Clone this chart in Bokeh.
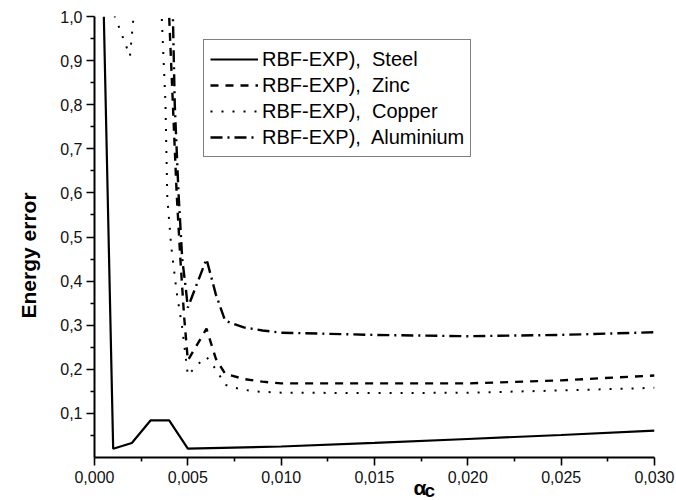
from bokeh.plotting import figure
from bokeh.models import (FixedTicker, CustomJSTickFormatter, Legend, LegendItem,
                          Title, Range1d)
from bokeh.embed import file_html
from bokeh.resources import INLINE

# ---- data ----
steel_x = [0.0005, 0.001, 0.002, 0.003, 0.004, 0.005, 0.010, 0.015, 0.020, 0.025, 0.030]
steel_y = [1.0, 0.020, 0.033, 0.084, 0.084, 0.020, 0.025, 0.033, 0.042, 0.051, 0.061]

zinc_x = [0.0030, 0.0040, 0.0042, 0.0044, 0.0046, 0.0048, 0.0050, 0.0060, 0.0065,
          0.0070, 0.0080, 0.0090, 0.0100, 0.0150, 0.0200, 0.0250, 0.0300]
zinc_y = [1.30, 1.00, 0.80, 0.60, 0.45, 0.32, 0.22, 0.292, 0.224,
          0.190, 0.178, 0.172, 0.168, 0.168, 0.168, 0.175, 0.186]

copper_x = [0.0005, 0.0010, 0.0015, 0.0019, 0.0022, 0.0030, 0.0035, 0.0036, 0.0038,
            0.0039, 0.0041, 0.0044, 0.0047, 0.0050, 0.0055, 0.0060, 0.0065, 0.0070,
            0.0075, 0.0085, 0.0100, 0.0150, 0.0200, 0.0250, 0.0300]
copper_y = [1.30, 1.01, 0.955, 0.91, 1.05, 1.30, 1.10, 1.00, 0.806,
            0.590, 0.483, 0.375, 0.294, 0.186, 0.210, 0.228, 0.200, 0.165,
            0.158, 0.150, 0.147, 0.146, 0.147, 0.152, 0.158]

alu_x = [0.0030, 0.0042, 0.0043, 0.0045, 0.0047, 0.0049, 0.0050, 0.0060, 0.0065,
         0.0070, 0.0080, 0.0090, 0.0100, 0.0150, 0.0200, 0.0250, 0.0300]
alu_y = [1.30, 1.00, 0.80, 0.60, 0.45, 0.38, 0.34, 0.45, 0.37,
         0.31, 0.295, 0.288, 0.283, 0.278, 0.275, 0.278, 0.284]

labels = ["RBF-EXP),  Steel", "RBF-EXP),  Zinc", "RBF-EXP),  Copper", "RBF-EXP),  Aluminium"]
y_title = "Energy error"
x_title_main = "\u03b1"
x_title_sub = "c"

x_ticks = [0.000, 0.005, 0.010, 0.015, 0.020, 0.025, 0.030]
x_minor = [0.0025, 0.0075, 0.0125, 0.0175, 0.0225, 0.0275]
y_ticks = [0.1, 0.2, 0.3, 0.4, 0.5, 0.6, 0.7, 0.8, 0.9, 1.0]
y_minor = [0.05, 0.15, 0.25, 0.35, 0.45, 0.55, 0.65, 0.75, 0.85, 0.95]

FONT = "Liberation Sans"

p = figure(frame_width=560, frame_height=441, output_backend="svg",
           toolbar_location=None, x_range=Range1d(0, 0.030), y_range=Range1d(0, 1.0),
           min_border_left=94, min_border_top=16, min_border_right=22, min_border_bottom=43)
p.outline_line_color = None
p.xgrid.visible = False
p.ygrid.visible = False
p.background_fill_color = "white"

r1 = p.line(steel_x, steel_y, line_color="black", line_width=2.2)
r2 = p.line(zinc_x, zinc_y, line_color="black", line_width=2.4, line_dash="8 7")
r3 = p.line(copper_x, copper_y, line_color="black", line_width=2.0, line_dash="2 9")
r4 = p.line(alu_x, alu_y, line_color="black", line_width=2.4, line_dash="12 5 2 5")

for ax in (p.xaxis[0], p.yaxis[0]):
    ax.axis_line_width = 2
    ax.axis_line_color = "black"
    ax.major_tick_line_width = 1.6
    ax.minor_tick_line_width = 1.6
    ax.major_tick_line_color = "black"
    ax.minor_tick_line_color = "black"
    ax.major_tick_in = 0
    ax.minor_tick_in = 0
    ax.major_tick_out = 8
    ax.minor_tick_out = 4
    ax.major_label_text_font = FONT
    ax.major_label_text_font_size = "16px"
    ax.major_label_text_color = "#111111"

p.xaxis.ticker = FixedTicker(ticks=x_ticks, minor_ticks=x_minor)
p.yaxis.ticker = FixedTicker(ticks=y_ticks, minor_ticks=y_minor)
p.xaxis.formatter = CustomJSTickFormatter(code="return tick.toFixed(3).replace('.', ',');")
p.yaxis.formatter = CustomJSTickFormatter(code="return tick.toFixed(1).replace('.', ',');")
p.xaxis.major_label_standoff = 5
p.yaxis.major_label_standoff = 4

# y-axis title as a side-panel Title (lets us offset it along the axis)
p.add_layout(Title(text=y_title, align="left", offset=139, vertical_align="top",
                   standoff=31, text_font=FONT, text_font_style="bold",
                   text_font_size="21px", text_color="black"), "left")

# x-axis title: alpha with subscript c
p.add_layout(Title(text=x_title_main, align="left", offset=319, vertical_align="bottom",
                   standoff=-23, text_font=FONT, text_font_style="bold",
                   text_font_size="21px", text_color="black"), "below")
p.add_layout(Title(text=x_title_sub, align="left", offset=330, vertical_align="bottom",
                   standoff=-19, text_font=FONT, text_font_style="bold",
                   text_font_size="19px", text_color="black"), "below")

legend = Legend(items=[LegendItem(label=labels[0], renderers=[r1]),
                       LegendItem(label=labels[1], renderers=[r2]),
                       LegendItem(label=labels[2], renderers=[r3]),
                       LegendItem(label=labels[3], renderers=[r4])],
                location=(109, 300))
legend.label_text_font = FONT
legend.label_text_font_size = "20px"
legend.label_text_color = "black"
legend.label_height = 26
legend.glyph_height = 26
legend.glyph_width = 48
legend.label_standoff = 4
legend.spacing = 0
legend.padding = 6
legend.margin = 0
legend.border_line_color = "black"
legend.border_line_width = 1
legend.background_fill_alpha = 1
p.add_layout(legend)

open("out.html", "w").write(file_html(p, INLINE))
